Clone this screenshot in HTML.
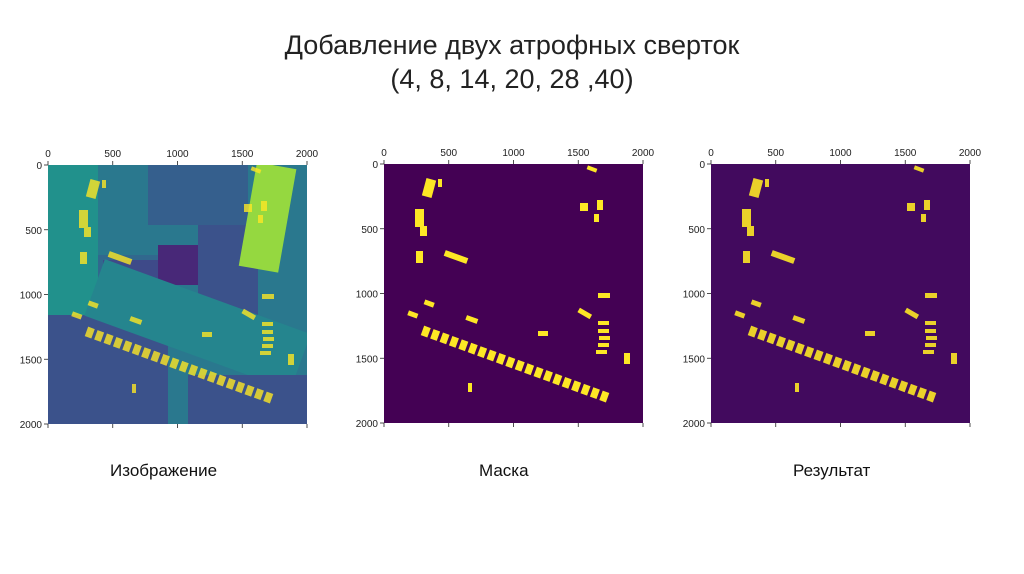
<!DOCTYPE html><html><head><meta charset="utf-8"><style>
body{margin:0;width:1024px;height:574px;background:#fff;overflow:hidden;font-family:"Liberation Sans",sans-serif}
.t{position:absolute;left:0;width:1024px;text-align:center;font-size:27px;color:#222}
.c{position:absolute;font-size:17px;color:#111}
</style></head><body>
<div class="t" style="top:30px">Добавление двух атрофных сверток</div>
<div class="t" style="top:64px">(4, 8, 14, 20, 28 ,40)</div>
<svg width="1024" height="574" style="position:absolute;left:0;top:0" font-family="Liberation Sans,sans-serif" font-size="10" fill="#222">
<defs>
<clipPath id="cp"><rect width="259" height="259"/></clipPath>
<g id="ax">
<g stroke="#222" stroke-width="0.8">
<line x1="0" y1="0" x2="0" y2="-4"/><line x1="64.75" y1="0" x2="64.75" y2="-4"/><line x1="129.5" y1="0" x2="129.5" y2="-4"/><line x1="194.25" y1="0" x2="194.25" y2="-4"/><line x1="259" y1="0" x2="259" y2="-4"/>
<line x1="0" y1="259" x2="0" y2="263"/><line x1="64.75" y1="259" x2="64.75" y2="263"/><line x1="129.5" y1="259" x2="129.5" y2="263"/><line x1="194.25" y1="259" x2="194.25" y2="263"/><line x1="259" y1="259" x2="259" y2="263"/>
<line x1="0" y1="0" x2="-4" y2="0"/><line x1="0" y1="64.75" x2="-4" y2="64.75"/><line x1="0" y1="129.5" x2="-4" y2="129.5"/><line x1="0" y1="194.25" x2="-4" y2="194.25"/><line x1="0" y1="259" x2="-4" y2="259"/>
</g>
<g text-anchor="middle" fill="#222"><text x="0" y="-8">0</text><text x="64.75" y="-8">500</text><text x="129.5" y="-8">1000</text><text x="194.25" y="-8">1500</text><text x="259" y="-8">2000</text></g>
<g text-anchor="end" fill="#222"><text x="-6" y="4">0</text><text x="-6" y="68.75">500</text><text x="-6" y="133.5">1000</text><text x="-6" y="198.25">1500</text><text x="-6" y="263">2000</text></g>
</g>
<g id="cars" fill="#fde725">
<rect x="40" y="15" width="10" height="18" transform="rotate(15 45 24)"/>
<rect x="31" y="45" width="9" height="18"/><rect x="36" y="62" width="7" height="10"/><rect x="32" y="87" width="7" height="12"/><rect x="42" y="20" width="6" height="10"/>
<rect x="54" y="15" width="4" height="8"/><rect x="60" y="90" width="24" height="6" transform="rotate(20 72 93)"/>
<rect x="24" y="148" width="10" height="5" transform="rotate(20 29 150)"/><rect x="40" y="137" width="10" height="5" transform="rotate(20 45 140)"/>
<g transform="rotate(20 40 168)"><rect x="38" y="162" width="7" height="10"/><rect x="48" y="162" width="7" height="10"/><rect x="58" y="162" width="7" height="10"/><rect x="68" y="162" width="7" height="10"/><rect x="78" y="162" width="7" height="10"/><rect x="88" y="162" width="7" height="10"/><rect x="98" y="162" width="7" height="10"/><rect x="108" y="162" width="7" height="10"/><rect x="118" y="162" width="7" height="10"/><rect x="128" y="162" width="7" height="10"/><rect x="138" y="162" width="7" height="10"/><rect x="148" y="162" width="7" height="10"/><rect x="158" y="162" width="7" height="10"/><rect x="168" y="162" width="7" height="10"/><rect x="178" y="162" width="7" height="10"/><rect x="188" y="162" width="7" height="10"/><rect x="198" y="162" width="7" height="10"/><rect x="208" y="162" width="7" height="10"/><rect x="218" y="162" width="7" height="10"/><rect x="228" y="162" width="7" height="10"/></g>
<rect x="82" y="153" width="12" height="5" transform="rotate(20 88 155)"/><rect x="154" y="167" width="10" height="5"/>
<rect x="84" y="219" width="4" height="9"/><rect x="203" y="3" width="10" height="4" transform="rotate(20 208 5)"/>
<rect x="196" y="39" width="8" height="8"/><rect x="213" y="36" width="6" height="10"/><rect x="210" y="50" width="5" height="8"/>
<rect x="214" y="129" width="12" height="5"/><rect x="194" y="147" width="14" height="5" transform="rotate(30 201 149)"/>
<rect x="214" y="157" width="11" height="4"/><rect x="214" y="165" width="11" height="4"/><rect x="215" y="172" width="11" height="4"/><rect x="214" y="179" width="11" height="4"/><rect x="212" y="186" width="11" height="4"/>
<rect x="240" y="189" width="6" height="11"/>
</g>
</defs>
<g transform="translate(48,165)"><g clip-path="url(#cp)"><rect width="259" height="259" fill="#2a788e"/>
<rect x="0" y="150" width="120" height="109" fill="#3b528b"/><rect x="100" y="0" width="100" height="60" fill="#355f8d"/>
<rect x="30" y="90" width="90" height="60" fill="#31688e"/><rect x="55" y="95" width="60" height="45" fill="#3e4a89"/>
<rect x="110" y="80" width="50" height="40" fill="#482878"/><rect x="150" y="60" width="60" height="100" fill="#3b528b"/>
<rect x="200" y="0" width="40" height="105" fill="#95d840" transform="rotate(10 220 50)"/><rect x="0" y="0" width="50" height="150" fill="#21918c"/>
<rect x="40" y="130" width="219" height="60" fill="#25858e" transform="rotate(20 150 160)"/>
<rect x="140" y="210" width="119" height="49" fill="#3b528b"/>
<use href="#cars" opacity="0.8"/></g>
<use href="#ax"/></g>
<g transform="translate(384,164)"><rect width="259" height="259" fill="#440154"/><use href="#cars"/><use href="#ax"/></g>
<g transform="translate(711,164)"><rect width="259" height="259" fill="#420a5e"/>
<use href="#cars" opacity="0.9"/><use href="#ax"/></g>
</svg>
<div class="c" style="left:110px;top:461px">Изображение</div>
<div class="c" style="left:479px;top:461px">Маска</div>
<div class="c" style="left:793px;top:461px">Результат</div>
</body></html>
